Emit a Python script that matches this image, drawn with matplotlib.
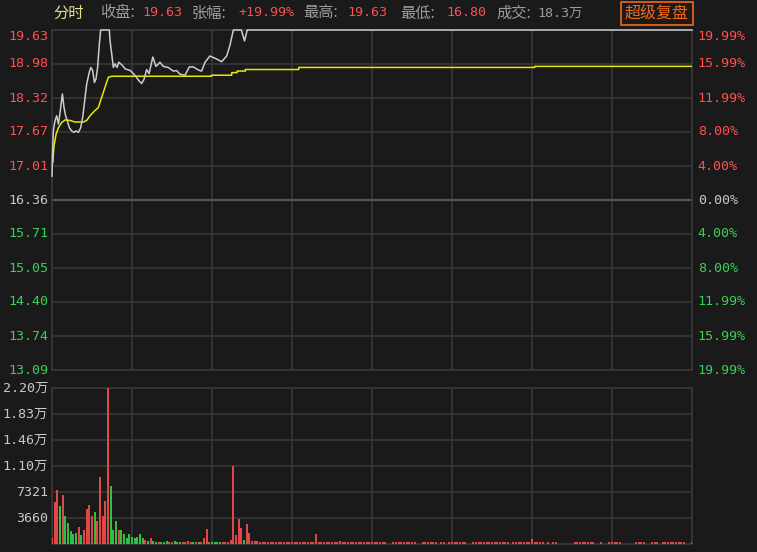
import matplotlib
matplotlib.use("Agg")
import matplotlib.pyplot as plt
from matplotlib.patches import Rectangle
import numpy as np

W, H = 757, 552
BG = "#1a1a1a"
GRID = "#383838"
RED = "#ff5050"
GREEN = "#3ccf55"
GRAY = "#c8c8c8"
HEAD_GRAY = "#9c9c9c"
MONO = ["DejaVu Sans Mono", "Noto Sans CJK SC"]
CJK = ["Noto Sans CJK SC", "DejaVu Sans"]

# price line vertices (minute, price)
PRICE_MIN = [0, 0.15, 0.5, 1.1, 1.75, 2.4, 2.8, 3.4, 3.9, 4.5, 5.1, 5.75, 6.5,
             7.4, 8.2, 9, 9.9, 10.75, 11.5, 12.1, 13, 14, 14.6, 15.25, 15.9,
             16.5, 17.1, 17.75, 18.25, 21.5, 21.75, 22.4, 23, 23.6, 24.4, 25,
             26.2, 27.5, 29.4, 31.25, 32.5, 33.6, 34.5, 35.5, 36.4, 37.8, 39,
             40.5, 41.7, 43.6, 45.5, 46.7, 48, 49.9, 51.5, 53, 54.9, 56.1, 57.4,
             59.2, 61.8, 63.6, 65.5, 66.7, 68, 71, 72.2, 73.2, 240]
PRICE_VAL = [16.82, 17.20, 17.69, 17.88, 17.98, 17.82, 17.96, 18.20, 18.40,
             18.14, 17.98, 17.88, 17.75, 17.69, 17.66, 17.69, 17.66, 17.75,
             17.95, 18.20, 18.59, 18.82, 18.91, 18.85, 18.62, 18.69, 18.91,
             19.36, 19.63, 19.63, 19.43, 19.17, 18.91, 18.98, 18.91, 19.01,
             18.96, 18.88, 18.85, 18.75, 18.66, 18.60, 18.68, 18.87, 18.79,
             19.11, 18.93, 19.01, 18.93, 18.91, 18.84, 18.85, 18.78, 18.76,
             18.92, 18.92, 18.86, 18.84, 19.01, 19.13, 19.07, 19.02, 19.13,
             19.33, 19.63, 19.63, 19.42, 19.63, 19.63]

# average price line vertices
AVG_MIN = [0.3, 0.75, 1.5, 2.4, 3.6, 4.9, 6.75, 8.6, 11.75, 13, 14.25, 16.1,
           17.4, 18.6, 19.9, 21.1, 22.4, 59.8, 59.8, 67.4, 67.4, 69.4, 69.4,
           72.5, 72.5, 92.5, 92.5, 181, 181, 240]
AVG_VAL = [17.08, 17.40, 17.62, 17.75, 17.85, 17.90, 17.89, 17.86, 17.86,
           17.89, 17.98, 18.08, 18.14, 18.33, 18.53, 18.72, 18.74, 18.74,
           18.76, 18.76, 18.81, 18.81, 18.84, 18.84, 18.87, 18.87, 18.91,
           18.91, 18.93, 18.93]

# per-minute volume (shares), minutes 0..240
VOLUME = [
    853, 5970, 7630, 5360, 6920, 3930, 2990, 1850, 1420, 1610,
    2370, 1230, 2040, 4930, 5500, 3930, 4550, 3220, 9430, 3930,
    6070, 22000, 8250, 1990, 3180, 1990, 1990, 1420, 853, 1420,
    1040, 853, 1040, 1420, 830, 590, 390, 830, 440, 260,
    260, 260, 260, 490, 260, 260, 440, 260, 260, 260,
    260, 440, 260, 260, 260, 260, 260, 830, 2060, 260,
    250, 250, 250, 250, 250, 250, 250, 634, 11000, 1220,
    3560, 2240, 634, 2830, 1610, 400, 400, 400, 250, 250,
    250, 250, 250, 250, 250, 250, 250, 250, 250, 250,
    250, 250, 250, 250, 250, 250, 250, 250, 250, 1370,
    250, 250, 250, 250, 250, 250, 250, 250, 400, 250,
    250, 250, 250, 250, 250, 250, 250, 250, 250, 250,
    250, 250, 250, 250, 250, 250, 0, 0, 250, 250,
    250, 250, 250, 250, 250, 250, 250, 0, 0, 250,
    250, 250, 250, 250, 250, 0, 250, 250, 0, 250,
    250, 250, 250, 250, 250, 250, 0, 0, 250, 250,
    250, 250, 250, 250, 250, 250, 250, 250, 250, 250,
    250, 250, 0, 250, 250, 250, 250, 250, 250, 250,
    640, 250, 250, 250, 250, 0, 250, 0, 250, 250,
    0, 0, 0, 0, 0, 0, 250, 250, 250, 250,
    250, 250, 250, 250, 0, 0, 250, 0, 0, 250,
    250, 250, 250, 250, 0, 0, 0, 0, 0, 250,
    250, 250, 250, 0, 0, 250, 250, 250, 0, 250,
    250, 250, 250, 250, 250, 250, 250, 250, 0, 0,
    250,
]
# 1 = up bar (red), 0 = down bar (green)
UP = ("1110100000" "1011110111" "1100010000" "0000010100"
      "1000110001" "1110101111" "0000111111" "1101111111"
      + "1" * 161)

PRICE_TICKS = [19.63, 18.98, 18.32, 17.67, 17.01, 16.36, 15.71, 15.05, 14.40, 13.74, 13.09]
PCT_LABELS = ["19.99%", "15.99%", "11.99%", "8.00%", "4.00%", "0.00%",
              "4.00%", "8.00%", "11.99%", "15.99%", "19.99%"]
PRE_CLOSE = 16.36
VOL_TICKS = [22000, 18300, 14600, 11000, 7321, 3660]
VOL_LABELS = ["2.20万", "1.83万", "1.46万", "1.10万", "7321", "3660"]
TIME_GRID = [0, 30, 60, 90, 120, 150, 180, 210, 240]

fig = plt.figure(figsize=(W / 100, H / 100), dpi=100, facecolor=BG)


def px_axes(x0, y0, x1, y1):
    a = fig.add_axes([x0 / W, 1 - y1 / H, (x1 - x0) / W, (y1 - y0) / H])
    a.set_facecolor(BG)
    a.set_xticks([])
    a.set_yticks([])
    for s in a.spines.values():
        s.set_color(GRID)
        s.set_linewidth(1.2)
    return a


ax = px_axes(52, 30, 692, 370)
axv = px_axes(52, 388, 692, 544)

# price panel
ax.set_xlim(0, 240)
ax.set_ylim(13.09, 19.63)
for t in TIME_GRID:
    ax.axvline(t, color=GRID, lw=1.2, zorder=1)
for v in PRICE_TICKS:
    mid = v == PRE_CLOSE
    ax.axhline(v, color="#555555" if mid else GRID, lw=1.6 if mid else 1.2, zorder=1)

ax.plot(AVG_MIN, AVG_VAL, color="#e8e800", lw=1.1, zorder=4)
ax.plot(PRICE_MIN, PRICE_VAL, color="#cccccc", lw=1.1, zorder=5, clip_on=False)

ytr = ax.get_yaxis_transform()
for i, (v, pct) in enumerate(zip(PRICE_TICKS, PCT_LABELS)):
    if v > PRE_CLOSE:
        c = RED
    elif v < PRE_CLOSE:
        c = GREEN
    else:
        c = GRAY
    va = "top" if i == 0 else "center"
    ax.text(-0.006, v, f"{v:.2f}", transform=ytr, ha="right", va=va,
            color=c, fontsize=9.6, family=MONO)
    ax.text(1.009, v, pct, transform=ytr, ha="left", va=va,
            color=c, fontsize=9.6, family=MONO)

# volume panel
minutes = np.arange(len(VOLUME))
axv.set_xlim(0, 240)
axv.set_ylim(0, 22000)
for t in TIME_GRID:
    axv.axvline(t, color=GRID, lw=1.2, zorder=1)
for v in VOL_TICKS + [0]:
    axv.axhline(v, color=GRID, lw=1.2, zorder=1)
colors = ["#e04848" if f == "1" else "#2fbf45" for f in UP]
axv.bar(minutes, VOLUME, width=0.75, color=colors, linewidth=0, zorder=3)

vtr = axv.get_yaxis_transform()
for v, lab in zip(VOL_TICKS, VOL_LABELS):
    axv.text(-0.006, v, lab, transform=vtr, ha="right", va="center",
             color=GRAY, fontsize=9.6, family=MONO)

# header line
HY = 1 - 13 / H
fig.text(53 / W, HY, "分时", color="#e6e08c", fontsize=11, family=CJK, va="center")
header = [
    (100, "收盘:", HEAD_GRAY, CJK),
    (142, "19.63", RED, MONO),
    (192, "张幅:", HEAD_GRAY, CJK),
    (238, "+19.99%", RED, MONO),
    (303, "最高:", HEAD_GRAY, CJK),
    (347, "19.63", RED, MONO),
    (400, "最低:", HEAD_GRAY, CJK),
    (446, "16.80", RED, MONO),
    (496, "成交:", HEAD_GRAY, CJK),
    (537, "18.3万", HEAD_GRAY, MONO),
]
for x, s, c, fam in header:
    fs = 11 if fam is CJK else 9.6
    fig.text(x / W, HY, s, color=c, fontsize=fs, family=fam, va="center")

ORANGE = "#f06818"
fig.patches.append(Rectangle((620.5 / W, 1 - 24.5 / H), 72.5 / W, 22.5 / H,
                             transform=fig.transFigure, fill=False,
                             edgecolor=ORANGE, linewidth=1.2))
fig.text(656.5 / W, HY, "超级复盘", color=ORANGE, fontsize=11.5, family=CJK,
         ha="center", va="center")

fig.savefig("out.png", dpi=100, facecolor=BG)
